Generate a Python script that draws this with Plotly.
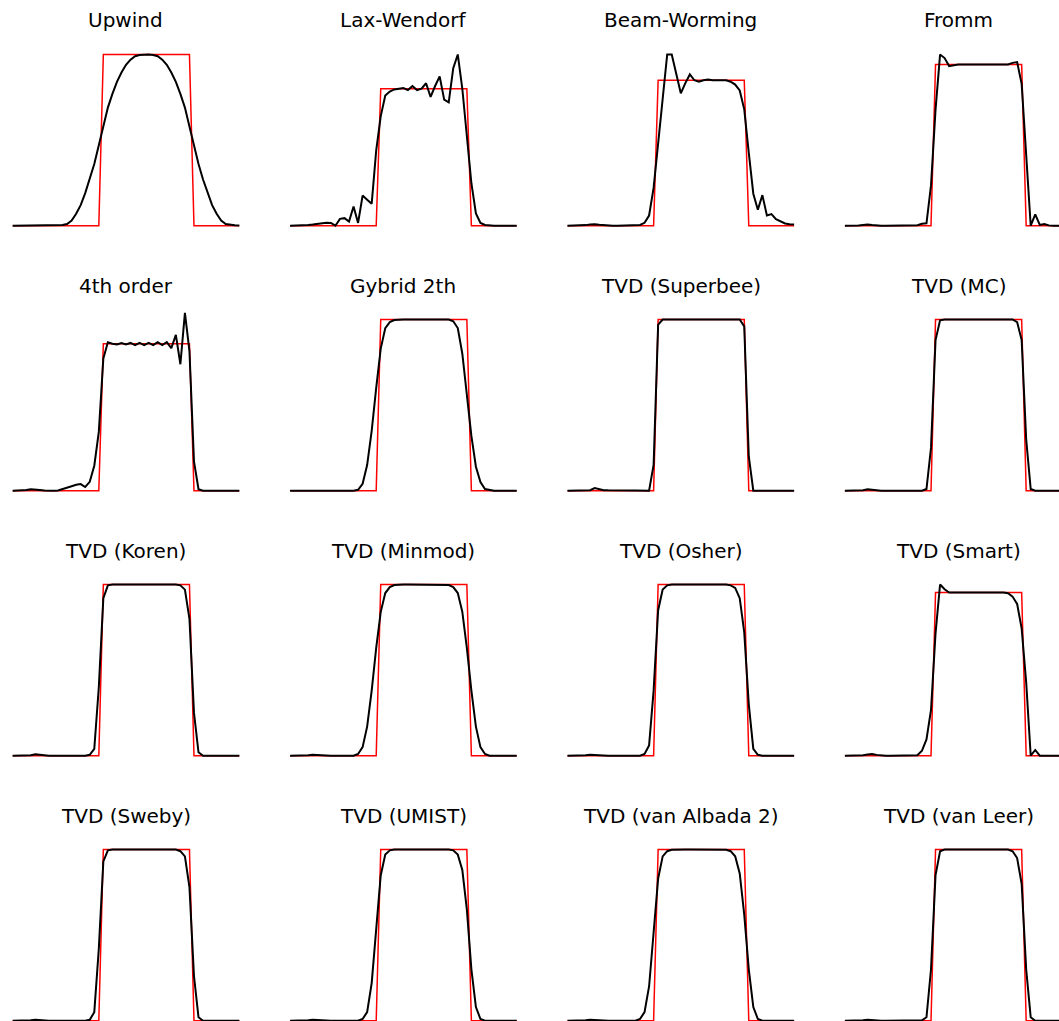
import plotly.graph_objects as go

# ---------------- data ----------------
X = [0.00, 0.02, 0.04, 0.06, 0.08, 0.10, 0.12, 0.14, 0.16, 0.18,
     0.20, 0.22, 0.24, 0.26, 0.28, 0.30, 0.32, 0.34, 0.36, 0.38,
     0.40, 0.42, 0.44, 0.46, 0.48, 0.50, 0.52, 0.54, 0.56, 0.58,
     0.60, 0.62, 0.64, 0.66, 0.68, 0.70, 0.72, 0.74, 0.76, 0.78,
     0.80, 0.82, 0.84, 0.86, 0.88, 0.90, 0.92, 0.94, 0.96, 0.98,
     1.00]

SQUARE = [0, 0, 0, 0, 0, 0, 0, 0, 0, 0,
          0, 0, 0, 0, 0, 0, 0, 0, 0, 0,
          1, 1, 1, 1, 1, 1, 1, 1, 1, 1,
          1, 1, 1, 1, 1, 1, 1, 1, 1, 1,
          0, 0, 0, 0, 0, 0, 0, 0, 0, 0,
          0]

UPWIND = [0, 0, 0, 0, 0, 0, 0, 0, 0, 0.001,
          0.002, 0.004, 0.01, 0.03, 0.07, 0.12, 0.19, 0.27, 0.36, 0.47,
          0.58, 0.69, 0.77, 0.84, 0.895, 0.94, 0.97, 0.99, 0.997, 1.0,
          1.0, 0.997, 0.99, 0.97, 0.94, 0.895, 0.84, 0.77, 0.69, 0.58,
          0.47, 0.36, 0.27, 0.19, 0.12, 0.07, 0.03, 0.01, 0.004, 0.002,
          0.001]

LAX_WENDROFF = [0, 0, 0, 0.003, 0.005, 0.008, 0.012, 0.018, 0.022, 0.02,
                0.0, 0.05, 0.055, 0.03, 0.14, 0.02, 0.22, 0.19, 0.16, 0.55,
                0.80, 0.95, 0.98, 0.995, 1.0, 1.005, 0.99, 1.02, 0.99, 1.0,
                1.04, 0.94, 1.02, 1.09, 0.92, 0.90, 1.15, 1.25, 1.0, 0.65,
                0.31, 0.09, 0.02, 0.005, 0, 0, 0, 0, 0, 0,
                0]

BEAM_WARMING = [0, 0, 0, 0.002, 0.004, 0.008, 0.01, 0.006, 0.003, 0.001,
                0, 0, 0, 0, 0, 0.002, 0.005, 0.02, 0.07, 0.26,
                0.57, 0.91, 1.177, 1.177, 1.05, 0.91, 0.98, 1.04, 1.0, 0.99,
                1.0, 1.005, 1.0, 1.0, 1.0, 1.0, 0.99, 0.97, 0.93, 0.8,
                0.5, 0.22, 0.11, 0.21, 0.07, 0.08, 0.045, 0.03, 0.015, 0.01,
                0.008]

FROMM = [0, 0, 0, 0.002, 0.005, 0.008, 0.004, 0.001, 0, 0,
         0, 0, 0, 0, 0, 0, 0.003, 0.012, 0.015, 0.25,
         0.72, 1.062, 1.04, 0.99, 0.995, 1.0, 1.0, 1.0, 1.0, 1.0,
         1.0, 1.0, 1.0, 1.0, 1.0, 1.0, 1.0, 1.01, 1.015, 0.88,
         0.45, 0.0, 0.07, 0.005, 0.01, 0.002, 0, 0, 0, 0,
         0]

FOURTH_ORDER = [0, 0, 0.002, 0.005, 0.01, 0.01, 0.005, 0.002, 0, 0,
                0.002, 0.01, 0.02, 0.03, 0.04, 0.045, 0.025, 0.06, 0.17, 0.4,
                0.9, 1.01, 1.0, 0.995, 1.005, 0.995, 1.005, 0.99, 1.005, 0.99,
                1.005, 0.99, 1.01, 0.99, 1.01, 0.97, 1.06, 0.86, 1.21, 0.95,
                0.2, 0.01, 0, 0, 0, 0, 0, 0, 0, 0,
                0]

GYBRID = [0, 0, 0, 0, 0, 0, 0, 0, 0, 0,
          0, 0, 0, 0, 0, 0.005, 0.04, 0.15, 0.35, 0.6,
          0.83, 0.95, 0.985, 0.997, 1.0, 1.0, 1.0, 1.0, 1.0, 1.0,
          1.0, 1.0, 1.0, 1.0, 1.0, 1.0, 0.99, 0.95, 0.8, 0.56,
          0.32, 0.14, 0.05, 0.01, 0.003, 0, 0, 0, 0, 0,
          0]

SUPERBEE = [0, 0, 0, 0, 0, 0.003, 0.015, 0.008, 0.003, 0.002,
            0.001, 0.001, 0.001, 0.001, 0.001, 0.001, 0.001, 0.001, 0, 0.15,
            0.97, 1, 1, 1, 1, 1, 1, 1, 1, 1,
            1, 1, 1, 1, 1, 1, 1, 1, 1, 0.96,
            0.2, 0, 0, 0, 0, 0, 0, 0, 0, 0,
            0]

MC = [0, 0, 0, 0, 0.003, 0.008, 0.005, 0.001, 0, 0,
      0, 0, 0, 0, 0, 0, 0, 0, 0.01, 0.25,
      0.88, 0.995, 1, 1, 1, 1, 1, 1, 1, 1,
      1, 1, 1, 1, 1, 1, 1, 1, 0.985, 0.88,
      0.3, 0.01, 0, 0, 0, 0, 0, 0, 0, 0,
      0]

KOREN = [0, 0, 0, 0, 0.003, 0.008, 0.004, 0.001, 0, 0,
         0, 0, 0, 0, 0, 0, 0, 0.005, 0.04, 0.4,
         0.92, 0.995, 1, 1, 1, 1, 1, 1, 1, 1,
         1, 1, 1, 1, 1, 1, 1, 0.995, 0.97, 0.8,
         0.25, 0.02, 0, 0, 0, 0, 0, 0, 0, 0,
         0]

MINMOD = [0, 0, 0, 0, 0.002, 0.005, 0.003, 0, 0, 0,
          0, 0, 0, 0, 0, 0.01, 0.05, 0.17, 0.38, 0.63,
          0.84, 0.95, 0.985, 0.997, 1, 1, 1, 1, 1, 1,
          1, 1, 1, 1, 1, 0.997, 0.985, 0.95, 0.84, 0.63,
          0.38, 0.17, 0.05, 0.01, 0, 0, 0, 0, 0, 0,
          0]

OSHER = [0, 0, 0, 0, 0.002, 0.005, 0.003, 0, 0, 0,
         0, 0, 0, 0, 0, 0, 0, 0.01, 0.06, 0.38,
         0.85, 0.97, 0.995, 1, 1, 1, 1, 1, 1, 1,
         1, 1, 1, 1, 1, 1, 0.995, 0.98, 0.92, 0.72,
         0.3, 0.04, 0.005, 0, 0, 0, 0, 0, 0, 0,
         0]

SMART = [0, 0, 0, 0, 0.003, 0.007, 0.01, 0.005, 0.001, 0,
         0, 0, 0, 0, 0, 0, 0.003, 0.03, 0.1, 0.28,
         0.75, 1.049, 1.02, 1.0, 1, 1, 1, 1, 1, 1,
         1, 1, 1, 1, 1, 1, 0.995, 0.975, 0.93, 0.78,
         0.45, 0.0, 0.035, 0.0, 0, 0, 0, 0, 0, 0,
         0]

SWEBY = [0, 0, 0, 0, 0.002, 0.006, 0.003, 0, 0, 0,
         0, 0, 0, 0, 0, 0, 0, 0.005, 0.05, 0.42,
         0.93, 0.995, 1, 1, 1, 1, 1, 1, 1, 1,
         1, 1, 1, 1, 1, 1, 1, 0.99, 0.96, 0.78,
         0.26, 0.02, 0, 0, 0, 0, 0, 0, 0, 0,
         0]

UMIST = [0, 0, 0, 0, 0.002, 0.005, 0.003, 0, 0, 0,
         0, 0, 0, 0, 0, 0, 0.01, 0.05, 0.22, 0.55,
         0.85, 0.97, 0.995, 1, 1, 1, 1, 1, 1, 1,
         1, 1, 1, 1, 1, 1, 0.995, 0.97, 0.88, 0.65,
         0.3, 0.08, 0.01, 0, 0, 0, 0, 0, 0, 0,
         0]

VAN_ALBADA2 = [0, 0, 0, 0, 0.002, 0.005, 0.003, 0, 0, 0,
               0, 0, 0, 0, 0, 0, 0.01, 0.05, 0.2, 0.52,
               0.83, 0.96, 0.99, 0.998, 1, 1, 1, 1, 1, 1,
               1, 1, 1, 1, 1, 0.998, 0.99, 0.96, 0.86, 0.62,
               0.3, 0.08, 0.01, 0, 0, 0, 0, 0, 0, 0,
               0]

VAN_LEER = [0, 0, 0, 0, 0.002, 0.006, 0.003, 0, 0, 0,
            0, 0, 0, 0, 0, 0, 0, 0.002, 0.02, 0.3,
            0.85, 0.99, 1, 1, 1, 1, 1, 1, 1, 1,
            1, 1, 1, 1, 1, 1, 1, 0.99, 0.95, 0.8,
            0.3, 0.02, 0, 0, 0, 0, 0, 0, 0, 0,
            0]

TITLES = ["Upwind", "Lax-Wendorf", "Beam-Worming", "Fromm",
          "4th order", "Gybrid 2th", "TVD (Superbee)", "TVD (MC)",
          "TVD (Koren)", "TVD (Minmod)", "TVD (Osher)", "TVD (Smart)",
          "TVD (Sweby)", "TVD (UMIST)", "TVD (van Albada 2)", "TVD (van Leer)"]

SERIES = [UPWIND, LAX_WENDROFF, BEAM_WARMING, FROMM,
          FOURTH_ORDER, GYBRID, SUPERBEE, MC,
          KOREN, MINMOD, OSHER, SMART,
          SWEBY, UMIST, VAN_ALBADA2, VAN_LEER]

for s in SERIES + [SQUARE]:
    assert len(s) == len(X), len(s)

# ---------------- layout geometry (pixels) ----------------
W, H = 1059, 1021
AX_W = 226.6
COL_LEFT0, COL_STEP = 12.7, 277.4
ROW_TOP0, ROW_BOT0, ROW_STEP = 54.5, 225.7, 265.0
TITLE_Y0 = 20.5
PAD = 3
TOP_SHIFT = {4: -6.7}   # the "4th order" panel box reaches a little higher

fig = go.Figure()
layout = {}
annotations = []

for k, (title, ys) in enumerate(zip(TITLES, SERIES)):
    r, c = divmod(k, 4)
    L = COL_LEFT0 + c * COL_STEP
    R = L + AX_W
    T = ROW_TOP0 + r * ROW_STEP + TOP_SHIFT.get(k, 0)
    B = ROW_BOT0 + r * ROW_STEP
    xmin, xmax = min(X), max(X)
    ymin = min(min(ys), min(SQUARE))
    ymax = max(max(ys), max(SQUARE))
    Dl, Dr = max(0, L - PAD), min(W, R + PAD)
    Dt, Db = max(0, T - PAD), min(H, B + PAD)
    sx = (R - L) / (xmax - xmin)
    sy = (B - T) / (ymax - ymin)
    xr = [xmin - (L - Dl) / sx, xmax + (Dr - R) / sx]
    yr = [ymin - (Db - B) / sy, ymax + (T - Dt) / sy]

    xa = "x" if k == 0 else f"x{k + 1}"
    ya = "y" if k == 0 else f"y{k + 1}"
    xname = "xaxis" if k == 0 else f"xaxis{k + 1}"
    yname = "yaxis" if k == 0 else f"yaxis{k + 1}"

    fig.add_trace(go.Scatter(x=X, y=SQUARE, mode="lines",
                             line=dict(color="#ff0000", width=1.5),
                             xaxis=xa, yaxis=ya, hoverinfo="skip"))
    fig.add_trace(go.Scatter(x=X, y=ys, mode="lines",
                             line=dict(color="#000000", width=2),
                             xaxis=xa, yaxis=ya, name=title))

    layout[xname] = dict(domain=[Dl / W, Dr / W], range=xr, visible=False,
                         anchor=ya, fixedrange=True)
    layout[yname] = dict(domain=[1 - Db / H, 1 - Dt / H], range=yr, visible=False,
                         anchor=xa, fixedrange=True)

    annotations.append(dict(text=title, xref="paper", yref="paper",
                            x=(L + R) / 2 / W, y=1 - (TITLE_Y0 + r * ROW_STEP) / H,
                            xanchor="center", yanchor="middle", showarrow=False,
                            font=dict(family="DejaVu Sans", size=20, color="#000000")))

fig.update_layout(**layout)
fig.update_layout(width=W, height=H, margin=dict(l=0, r=0, t=0, b=0),
                  paper_bgcolor="white", plot_bgcolor="white",
                  showlegend=False, annotations=annotations)

fig.write_html("out.html")
